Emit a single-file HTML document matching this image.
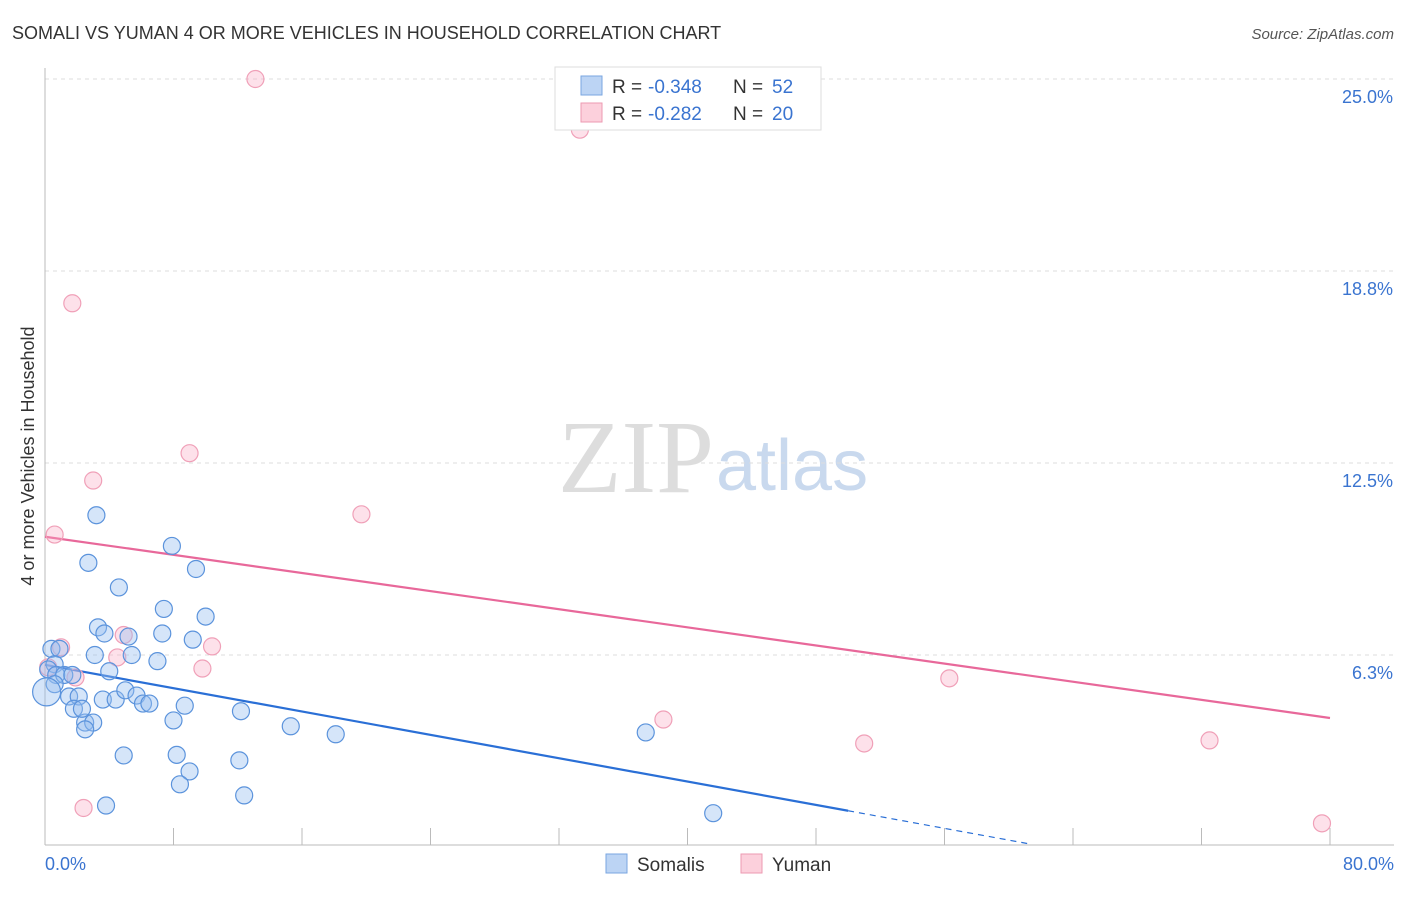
<!DOCTYPE html>
<html><head><meta charset="utf-8"><style>
body{margin:0;background:#fff;font-family:"Liberation Sans",sans-serif;}
</style></head><body>
<svg width="1406" height="892" xmlns="http://www.w3.org/2000/svg">
<text x="12" y="39" font-size="18" fill="#333">SOMALI VS YUMAN 4 OR MORE VEHICLES IN HOUSEHOLD CORRELATION CHART</text>
<text x="1394" y="39" font-size="15" fill="#555" font-style="italic" text-anchor="end">Source: ZipAtlas.com</text>
<text x="714" y="492" font-size="104" fill="#ddd" text-anchor="end" font-family="Liberation Serif,serif">ZIP</text>
<text x="716" y="490" font-size="72" fill="#c9d9ee">atlas</text>
<g id="grid"></g>
<line x1="45" y1="68" x2="45" y2="845" stroke="#bbb"/>
<line x1="45" y1="845" x2="1394" y2="845" stroke="#bbb"/>
<text transform="translate(34,456) rotate(-90)" font-size="18" fill="#333" text-anchor="middle">4 or more Vehicles in Household</text>
<text x="45" y="870" font-size="18" fill="#3a74d0">0.0%</text>
<text x="1394" y="870" font-size="18" fill="#3a74d0" text-anchor="end">80.0%</text>
<g id="lines"></g>
<g id="pts"></g>
<g>
<rect x="555" y="67" width="266" height="63" fill="#fff" stroke="#ddd"/>
<rect x="581" y="76" width="21" height="19" fill="#bcd4f4" stroke="#7aa6e0"/>
<rect x="581" y="103" width="21" height="19" fill="#fcd0dc" stroke="#ec9ab2"/>
<text x="612" y="93" font-size="19" fill="#333">R =</text>
<text x="648" y="93" font-size="19" fill="#3a74d0">-0.348</text>
<text x="733" y="93" font-size="19" fill="#333">N =</text>
<text x="772" y="93" font-size="19" fill="#3a74d0">52</text>
<text x="612" y="120" font-size="19" fill="#333">R =</text>
<text x="648" y="120" font-size="19" fill="#3a74d0">-0.282</text>
<text x="733" y="120" font-size="19" fill="#333">N =</text>
<text x="772" y="120" font-size="19" fill="#3a74d0">20</text>
</g>
<g>
<rect x="606" y="854" width="21" height="19" fill="#bcd4f4" stroke="#7aa6e0"/>
<text x="637" y="871" font-size="19" fill="#333">Somalis</text>
<rect x="741" y="854" width="21" height="19" fill="#fcd0dc" stroke="#ec9ab2"/>
<text x="772" y="871" font-size="19" fill="#333">Yuman</text>
</g>
</svg>
<script>
const yTicks=[25.0,18.8,12.5,6.3];
const yTickVals=[25,18.75,12.5,6.25];
const xTicks=[0,8,16,24,32,40,48,56,64,72,80];
const somaliX=[3.2,2.7,4.6,7.9,9.4,7.4,10.0,3.3,3.7,5.2,7.3,9.2,3.1,5.4,7.0,4.0,0.4,0.9,0.6,0.2,0.7,1.2,1.7,0.6,1.5,2.1,1.8,2.5,2.3,3.0,2.5,3.6,4.4,5.0,5.7,6.1,6.5,8.7,8.0,12.2,15.3,18.1,4.9,8.2,12.1,9.0,8.4,12.4,3.8,37.4,41.6,0.1];
const somaliY=[10.8,9.25,8.45,9.8,9.05,7.75,7.5,7.15,6.95,6.85,6.95,6.75,6.25,6.25,6.05,5.72,6.45,6.45,5.95,5.78,5.6,5.6,5.6,5.3,4.9,4.9,4.5,4.05,4.5,4.05,3.83,4.8,4.8,5.1,4.93,4.67,4.67,4.6,4.12,4.42,3.93,3.67,2.98,3.0,2.82,2.46,2.04,1.68,1.35,3.73,1.1,5.05];
const yumanX=[13.1,33.3,1.7,9.0,3.0,0.6,19.7,1.0,4.9,10.4,4.5,9.8,1.9,56.3,38.5,51.0,72.5,2.4,79.5,0.2];
const yumanY=[25.0,23.35,17.7,12.82,11.93,10.17,10.83,6.5,6.9,6.53,6.17,5.81,5.52,5.49,4.15,3.37,3.47,1.27,0.77,5.85];
const NS="http://www.w3.org/2000/svg";
const X0=45,X1=1330,Y0=847,YH=768;
function sx(v){return X0+v/80*(X1-X0);}
function sy(v){return Y0-v/25*YH;}
function mk(t,a,p){const e=document.createElementNS(NS,t);for(const k in a)e.setAttribute(k,a[k]);p.appendChild(e);return e;}
const grid=document.getElementById('grid');
yTickVals.forEach((v,i)=>{
 const l=mk('line',{x1:45,x2:1394,y1:sy(v),y2:sy(v),stroke:'#ddd','stroke-dasharray':'4,4'},grid);
 
 
 const t=mk('text',{x:1393,y:sy(v)+24,'font-size':18,fill:'#3a74d0','text-anchor':'end'},grid);
 t.textContent=yTicks[i].toFixed(1)+'%';
 
 
});
xTicks.forEach(v=>{
 const l=mk('line',{x1:sx(v),x2:sx(v),y1:828,y2:845,stroke:'#bbb'},grid);
 
 
});
const lines=document.getElementById('lines');
const pts=document.getElementById('pts');
yumanX.forEach((x,i)=>{
 const c=mk('circle',{cx:sx(x),cy:sy(yumanY[i]),r:8.5,fill:'rgba(248,170,195,0.35)',stroke:'#f0a0b8','stroke-width':1.2},pts);
 
 
});
somaliX.forEach((x,i)=>{
 const c=mk('circle',{cx:sx(x),cy:sy(somaliY[i]),r:(i==somaliX.length-1?14:8.5),fill:'rgba(150,190,240,0.4)',stroke:'#5b93dc','stroke-width':1.2},pts);
 
 
});
const bl=mk('line',{x1:sx(0),y1:sy(5.93),x2:sx(50),y2:sy(1.18),stroke:'#2a6fd6','stroke-width':2.2},lines);


const bd=mk('line',{x1:sx(50),y1:sy(1.18),x2:sx(61.3),y2:sy(0.1),stroke:'#2a6fd6','stroke-width':1.2,'stroke-dasharray':'6,5'},lines);


const pl=mk('line',{x1:sx(0),y1:sy(10.1),x2:sx(80),y2:sy(4.2),stroke:'#e8689a','stroke-width':2.2},lines);


</script>
</body></html>
